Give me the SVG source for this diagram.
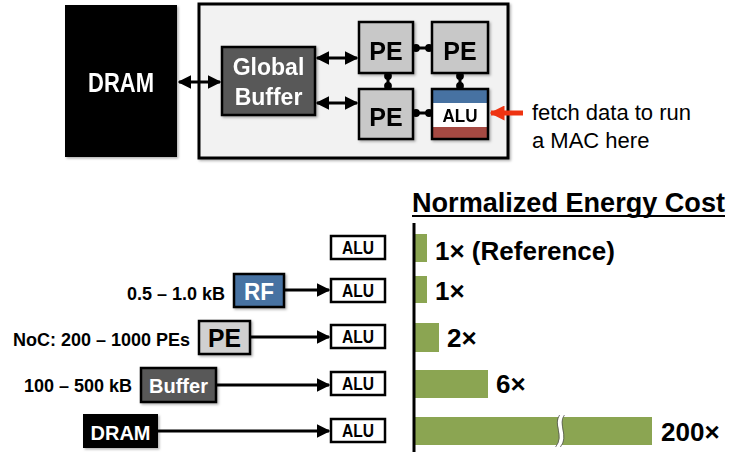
<svg xmlns="http://www.w3.org/2000/svg" width="747" height="457" viewBox="0 0 747 457">
<style>
text{font-family:"Liberation Sans",Arial,sans-serif}
.b{font-weight:bold}
.blk{stroke:#000;stroke-width:2.5}
.conn{stroke:#000;stroke-width:3;fill:none}
.lbl{font-size:18px;font-weight:bold;fill:#000;text-anchor:end}
.val{font-size:26px;font-weight:bold;fill:#000}
.alu rect{fill:#fff;stroke:#000;stroke-width:2.5}
.alu text{font-size:18px;font-weight:bold;text-anchor:middle}
.bar{fill:#8BA552}
</style>
<defs>
<marker id="ah" viewBox="0 0 10 10" refX="9" refY="5" markerWidth="4.5" markerHeight="4.5" orient="auto-start-reverse" markerUnits="strokeWidth">
<path d="M0,0 L10,5 L0,10 z" fill="#000"/>
</marker>
<marker id="ahr" viewBox="0 0 10 10" refX="9" refY="5" markerWidth="3" markerHeight="3" orient="auto" markerUnits="strokeWidth">
<path d="M0,0 L10,5 L0,10 z" fill="#EE3311"/>
</marker>
<marker id="dot" viewBox="0 0 10 10" refX="5" refY="5" markerWidth="2.6" markerHeight="2.6" markerUnits="strokeWidth">
<circle cx="5" cy="5" r="5" fill="#000"/>
</marker>
<filter id="sh" x="-10%" y="-10%" width="130%" height="130%">
<feDropShadow dx="1.5" dy="1.5" stdDeviation="1" flood-color="#000" flood-opacity="0.3"/>
</filter>
</defs>

<!-- Top architecture -->
<g id="dram-top" filter="url(#sh)">
<rect x="65" y="5" width="112" height="152" fill="#000"/>
<text x="121" y="92" class="b" font-size="27" fill="#fff" text-anchor="middle" textLength="66" lengthAdjust="spacingAndGlyphs">DRAM</text>
</g>
<g id="chip" filter="url(#sh)">
<rect x="199" y="4" width="309" height="154" fill="#F2F2F2" stroke="#000" stroke-width="3"/>
</g>
<g id="global-buffer" filter="url(#sh)">
<rect x="222" y="47" width="93" height="68" fill="#595959" class="blk"/>
<text x="268.5" y="75" class="b" font-size="23" fill="#fff" text-anchor="middle">Global</text>
<text x="268.5" y="105" class="b" font-size="23" fill="#fff" text-anchor="middle">Buffer</text>
</g>
<g id="pe-tl" filter="url(#sh)">
<rect x="359" y="22" width="54" height="51" fill="#C8C8C8" class="blk"/>
<text x="386" y="60" class="b" font-size="25" text-anchor="middle">PE</text>
</g>
<g id="pe-tr" filter="url(#sh)">
<rect x="432" y="22" width="56" height="51" fill="#C8C8C8" class="blk"/>
<text x="460" y="60" class="b" font-size="25" text-anchor="middle">PE</text>
</g>
<g id="pe-bl" filter="url(#sh)">
<rect x="359" y="89" width="54" height="50" fill="#C8C8C8" class="blk"/>
<text x="386" y="126" class="b" font-size="25" text-anchor="middle">PE</text>
</g>
<g id="alu-top" filter="url(#sh)">
<rect x="432" y="89" width="56" height="14" fill="#4672A2"/>
<rect x="432" y="103" width="56" height="24" fill="#fff"/>
<rect x="432" y="127" width="56" height="12" fill="#A54A43"/>
<rect x="432" y="89" width="56" height="50" fill="none" class="blk"/>
<text x="460" y="122" class="b" font-size="19" text-anchor="middle" textLength="35" lengthAdjust="spacingAndGlyphs">ALU</text>
</g>
<g id="note">
<text x="532" y="120" font-size="22">fetch data to run</text>
<text x="532" y="148" font-size="22">a MAC here</text>
</g>

<!-- Bottom hierarchy -->
<g id="rf">
<rect x="234" y="274" width="50" height="33" fill="#4672A2" class="blk" filter="url(#sh)"/>
<text x="259" y="300" class="b" font-size="24" fill="#fff" text-anchor="middle" textLength="30" lengthAdjust="spacingAndGlyphs">RF</text>
</g>
<g id="pe">
<rect x="199" y="321" width="51" height="33" fill="#D0D0D0" class="blk" filter="url(#sh)"/>
<text x="224.5" y="347" class="b" font-size="25" text-anchor="middle" textLength="33" lengthAdjust="spacingAndGlyphs">PE</text>
</g>
<g id="buffer">
<rect x="141" y="368" width="75" height="34" fill="#595959" class="blk" filter="url(#sh)"/>
<text x="178.5" y="393" class="b" font-size="20" fill="#fff" text-anchor="middle">Buffer</text>
</g>
<g id="dram">
<rect x="83" y="414" width="75" height="34" fill="#000" filter="url(#sh)"/>
<text x="120.5" y="440" class="b" font-size="20" fill="#fff" text-anchor="middle">DRAM</text>
</g>
<g id="labels">
<text x="225" y="300" class="lbl">0.5 – 1.0 kB</text>
<text x="190" y="346" class="lbl">NoC: 200 – 1000 PEs</text>
<text x="132" y="392" class="lbl">100 – 500 kB</text>
</g>
<g id="alu1" class="alu"><rect x="331" y="236" width="54" height="23"/><text x="358" y="254" textLength="32" lengthAdjust="spacingAndGlyphs">ALU</text></g>
<g id="alu2" class="alu"><rect x="331" y="279" width="54" height="23"/><text x="358" y="297" textLength="32" lengthAdjust="spacingAndGlyphs">ALU</text></g>
<g id="alu3" class="alu"><rect x="331" y="325" width="54" height="23"/><text x="358" y="343" textLength="32" lengthAdjust="spacingAndGlyphs">ALU</text></g>
<g id="alu4" class="alu"><rect x="331" y="372" width="54" height="23"/><text x="358" y="390" textLength="32" lengthAdjust="spacingAndGlyphs">ALU</text></g>
<g id="alu5" class="alu"><rect x="331" y="419" width="54" height="23"/><text x="358" y="437" textLength="32" lengthAdjust="spacingAndGlyphs">ALU</text></g>

<!-- Connectors -->
<g id="connectors">
<line x1="179" y1="82" x2="220" y2="82" class="conn" marker-start="url(#ah)" marker-end="url(#ah)"/>
<line x1="317" y1="58" x2="357" y2="58" class="conn" marker-start="url(#ah)" marker-end="url(#ah)"/>
<line x1="317" y1="103" x2="357" y2="103" class="conn" marker-start="url(#ah)" marker-end="url(#ah)"/>
<line x1="416" y1="48" x2="429" y2="48" class="conn" marker-start="url(#dot)" marker-end="url(#dot)"/>
<line x1="388" y1="76" x2="388" y2="86" class="conn" marker-start="url(#dot)" marker-end="url(#dot)"/>
<line x1="460" y1="76" x2="460" y2="86" class="conn" marker-start="url(#dot)" marker-end="url(#dot)"/>
<line x1="416" y1="113" x2="429" y2="113" class="conn" marker-start="url(#dot)" marker-end="url(#dot)"/>
<line x1="523" y1="113" x2="491" y2="113" stroke="#EE3311" stroke-width="5" marker-end="url(#ahr)"/>
<line x1="285" y1="290" x2="329" y2="290" class="conn" marker-end="url(#ah)"/>
<line x1="251" y1="337" x2="329" y2="337" class="conn" marker-end="url(#ah)"/>
<line x1="217" y1="385" x2="329" y2="385" class="conn" marker-end="url(#ah)"/>
<line x1="158" y1="431" x2="329" y2="431" class="conn" marker-end="url(#ah)"/>
</g>

<!-- Chart -->
<g id="chart">
<text x="412" y="212" class="b" font-size="27" textLength="313" lengthAdjust="spacingAndGlyphs">Normalized Energy Cost</text>
<line x1="412" y1="216" x2="725" y2="216" stroke="#000" stroke-width="2"/>
<rect class="bar" x="414" y="234" width="13" height="28"/>
<rect class="bar" x="414" y="276" width="13" height="27"/>
<rect class="bar" x="414" y="323" width="25" height="29"/>
<rect class="bar" x="414" y="370" width="74" height="28"/>
<rect class="bar" x="414" y="417" width="238" height="28"/>
<path d="M562,415 C555,424 567,436 558,447" stroke="#fff" stroke-width="4" fill="none"/>
<path d="M559.6,415 C552.6,424 564.6,436 555.6,447" stroke="#555" stroke-width="0.8" fill="none"/>
<path d="M564.4,415 C557.4,424 569.4,436 560.4,447" stroke="#555" stroke-width="0.8" fill="none"/>
<line x1="414" y1="223" x2="414" y2="452" stroke="#000" stroke-width="3"/>
<text x="435" y="260" class="val">1× (Reference)</text>
<text x="435" y="300" class="val">1×</text>
<text x="447" y="347" class="val">2×</text>
<text x="496" y="393" class="val">6×</text>
<text x="661" y="441" class="val">200×</text>
</g>
</svg>
